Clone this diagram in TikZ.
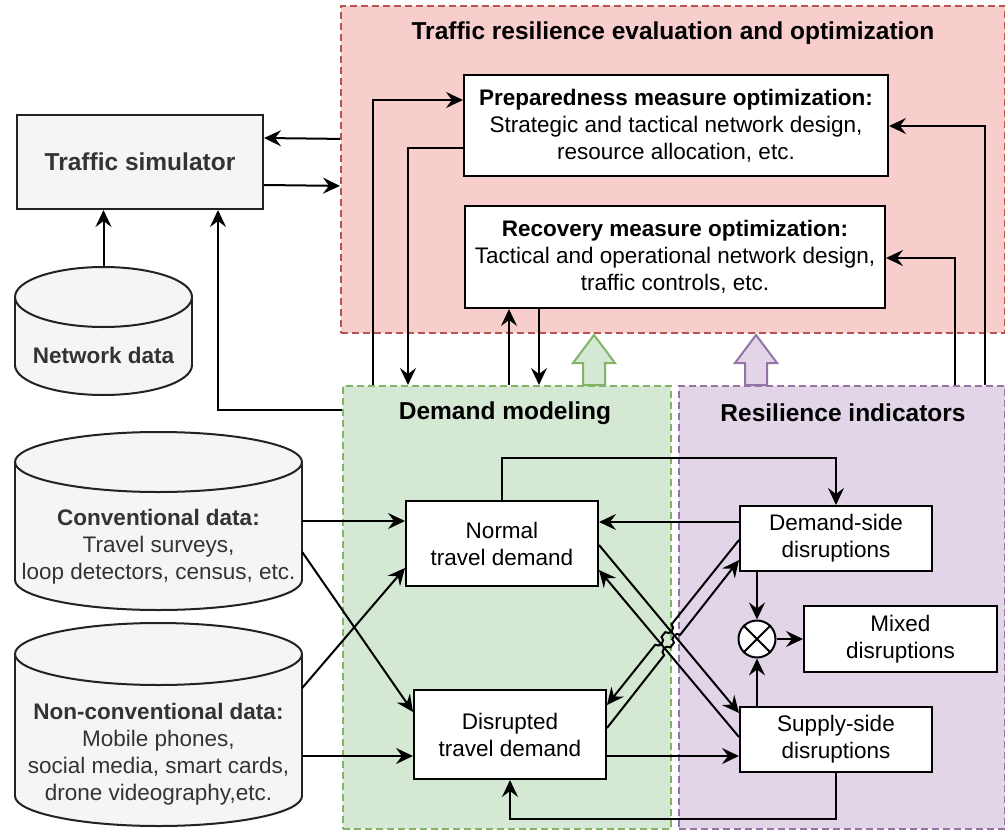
\documentclass[tikz,border=0pt]{standalone}
\usepackage{fontspec}
\setmainfont{Liberation Sans}
\usetikzlibrary{arrows.meta,calc,intersections}
\definecolor{redfill}{HTML}{F8CECC}
\definecolor{redline}{HTML}{B85450}
\definecolor{greenfill}{HTML}{D5E8D4}
\definecolor{greenline}{HTML}{82B366}
\definecolor{purplefill}{HTML}{E1D5E7}
\definecolor{purpleline}{HTML}{9673A6}
\definecolor{grayfill}{HTML}{F5F5F5}
\definecolor{grayline}{HTML}{222222}
\definecolor{graytext}{HTML}{333333}
\begin{document}
\begin{tikzpicture}[x=1pt,y=-1pt,
  bodyfont/.style={font=\fontsize{22.5}{27}\selectfont},
  titlefont/.style={font=\bfseries\fontsize{24.5}{29}\selectfont},
  container/.style={draw, line width=1.8pt, dash pattern=on 7pt off 4pt, inner sep=0pt, anchor=north west},
  whitebox/.style={draw, fill=white, line width=2pt, inner sep=0pt, align=center, bodyfont},
  cylline/.style={draw=grayline, line width=2pt},
  conn/.style={line width=2pt, -{Stealth[length=17pt,width=16pt,inset=6pt]}},
  hop/.style={bend left=90, looseness=1.5},
  blockarrow/.style={line width=2pt, line join=miter},
]
\useasboundingbox (0,0) rectangle (1005,830);

% containers
\node[container, draw=redline, fill=redfill, minimum width=664pt, minimum height=327pt] (red) at (340,5) {};
\node[container, draw=greenline, fill=greenfill, minimum width=328pt, minimum height=443pt] (green) at (342,385) {};
\node[container, draw=purpleline, fill=purplefill, minimum width=326pt, minimum height=443pt] (purple) at (678,385) {};

\node[titlefont] (redtitle) at (673,33) {Traffic resilience evaluation and optimization};
\node[titlefont] (greentitle) at (505,413) {Demand modeling};
\node[titlefont] (purpletitle) at (843,413) {Resilience indicators};

% block arrows
\draw[blockarrow, draw=greenline, fill=greenfill] (583,385) -- (583,363) -- (573,363) -- (594,335) -- (615,363) -- (605,363) -- (605,385) -- cycle;
\draw[blockarrow, draw=purpleline, fill=purplefill] (745,385) -- (745,363) -- (735,363) -- (756,335) -- (777,363) -- (767,363) -- (767,385) -- cycle;

% top boxes
\node[whitebox, minimum width=424pt, minimum height=101pt] (prep) at (676,125.5)
  {\textbf{Preparedness measure optimization:}\\Strategic and tactical network design,\\resource allocation, etc.};
\node[whitebox, minimum width=420pt, minimum height=102pt] (recov) at (675,257)
  {\textbf{Recovery measure optimization:}\\Tactical and operational network design,\\traffic controls, etc.};

% simulator
\node[draw=grayline, fill=grayfill, line width=2pt, minimum width=246pt, minimum height=94pt, inner sep=0pt, text=graytext, titlefont] (sim) at (140,162) {Traffic simulator};

% network data cylinder
\fill[grayfill] (15,297) rectangle (192,365);
\fill[grayfill] (103.5,365) ellipse [x radius=88.5pt, y radius=30pt];
\draw[cylline] (15,297) -- (15,365) (192,297) -- (192,365);
\begin{scope}
  \clip (0,365) rectangle (210,410);
  \draw[cylline] (103.5,365) ellipse [x radius=88.5pt, y radius=30pt];
\end{scope}
\draw[cylline, fill=grayfill] (103.5,297) ellipse [x radius=88.5pt, y radius=30pt];
\node[minimum width=177pt, minimum height=128pt, inner sep=0pt] (net) at (103.5,331) {};
\node[font=\bfseries\fontsize{22.5}{27}\selectfont, text=graytext] (nettext) at (103.5,355) {Network data};

% conventional data cylinder
\fill[grayfill] (15,462) rectangle (302,580);
\fill[grayfill] (158.5,580) ellipse [x radius=143.5pt, y radius=30pt];
\draw[cylline] (15,462) -- (15,580) (302,462) -- (302,580);
\begin{scope}
  \clip (0,580) rectangle (320,620);
  \draw[cylline] (158.5,580) ellipse [x radius=143.5pt, y radius=30pt];
\end{scope}
\draw[cylline, fill=grayfill] (158.5,462) ellipse [x radius=143.5pt, y radius=30pt];
\node[minimum width=287pt, minimum height=178pt, inner sep=0pt] (conv) at (158.5,521) {};
\node[bodyfont, text=graytext, align=center] (convtext) at (158.5,546.5)
  {\textbf{Conventional data:}\\Travel surveys,\\loop detectors, census, etc.};

% non-conventional data cylinder
\fill[grayfill] (15,654) rectangle (302,796);
\fill[grayfill] (158.5,796) ellipse [x radius=143.5pt, y radius=30pt];
\draw[cylline] (15,654) -- (15,796) (302,654) -- (302,796);
\begin{scope}
  \clip (0,796) rectangle (320,830);
  \draw[cylline] (158.5,796) ellipse [x radius=143.5pt, y radius=30pt];
\end{scope}
\draw[cylline, fill=grayfill] (158.5,654) ellipse [x radius=143.5pt, y radius=31pt];
\node[minimum width=287pt, minimum height=204pt, inner sep=0pt] (nonconv) at (158.5,725) {};
\node[bodyfont, text=graytext, align=center] (nonconvtext) at (158.5,754)
  {\textbf{Non-conventional data:}\\Mobile phones,\\social media, smart cards,\\drone videography,etc.};

% demand modeling boxes
\node[whitebox, minimum width=192pt, minimum height=85pt] (normal) at (502,543.5) {Normal\\travel demand};
\node[whitebox, minimum width=192pt, minimum height=89pt] (disr) at (510,734.5) {Disrupted\\travel demand};

% resilience indicator boxes
\node[whitebox, minimum width=192pt, minimum height=65pt] (demand) at (836,538.5) {Demand-side\\disruptions};
\node[whitebox, minimum width=192pt, minimum height=65pt] (supply) at (836,739.5) {Supply-side\\disruptions};
\node[whitebox, minimum width=193pt, minimum height=66pt] (mixed) at (900.5,639) {Mixed\\disruptions};
\node[circle, draw, fill=white, line width=2pt, minimum size=37pt, inner sep=0pt] (circ) at (757,639) {};
\draw[line width=2pt] (circ.north west) -- (circ.south east) (circ.north east) -- (circ.south west);

% connectors: left side
\draw[conn] (net.north) -- (net.north |- sim.south);
\draw[conn] ($(red.west)+(0,-30.5)$) -- ($(sim.east)+(0,-24)$);
\draw[conn] ($(sim.east)+(0,23)$) -- ($(red.west)+(0,16.5)$);
\draw[conn] ($(green.north west)+(0,25)$) -| ($(sim.south)+(78,0)$);

% connectors: top
\draw[conn] ($(green.north west)+(31,0)$) |- ($(prep.west)+(0,-25.5)$);
\draw[conn] ($(prep.west)+(0,22.5)$) -| ($(green.north west)+(66,0)$);
\draw[conn] ($(green.north west)+(167,0)$) -- ($(recov.south)+(-166,0)$);
\draw[conn] ($(recov.south)+(-136,0)$) -- ($(green.north west)+(197,0)$);
\draw[conn] ($(purple.north east)+(-21,0)$) |- ($(prep.east)+(0,0.5)$);
\draw[conn] ($(purple.north east)+(-51,0)$) |- ($(recov.east)+(0,1)$);

% connectors: data to demand
\draw[conn] (conv.east) -- (conv.east -| normal.west);
\draw[conn] ($(conv.east)+(0,31)$) -- ($(disr.west)+(0,-22.5)$);
\draw[conn] ($(nonconv.east)+(0,-37)$) -- ($(normal.west)+(0,24.5)$);
\draw[conn] ($(nonconv.east)+(0,31)$) -- ($(disr.west)+(0,21.5)$);

% connectors: demand <-> indicators
\draw[conn] (normal.north) -- ++(0,-42) -| (demand.north);
\draw[conn] ($(demand.west)+(0,-16.5)$) -- ($(normal.east)+(0,-21.5)$);
\draw[conn] ($(disr.east)+(0,21.5)$) -- ($(supply.west)+(0,16.5)$);
\draw[conn] (supply.south) -- ++(0,46) -| (disr.south);
\draw[conn] (circ.north |- demand.south) -- (circ.north);
\draw[conn] (circ.south |- supply.north) -- (circ.south);
\draw[conn] (circ.east) -- (circ.east -| mixed.west);

% diagonals
\coordinate (a1) at ($(normal.east)+(0,1.5)$);
\coordinate (b1) at ($(supply.west)+(0,-26.5)$);
\coordinate (a2) at ($(supply.west)+(0,-2.5)$);
\coordinate (b2) at ($(normal.east)+(0,26.5)$);
\coordinate (a3) at ($(demand.west)+(0,1.5)$);
\coordinate (b3) at ($(disr.east)+(0,-29.5)$);
\coordinate (a4) at ($(disr.east)+(0,-6.5)$);
\coordinate (b4) at ($(demand.west)+(0,21.5)$);
\draw[conn, name path=l1] (a1) -- (b1);
\draw[conn, name path=l2] (a2) -- (b2);
\path[name path=l3] (a3) -- (b3);
\path[name path=l4] (a4) -- (b4);
\path[name intersections={of=l3 and l1, by=x31}];
\path[name intersections={of=l3 and l2, by=x32}];
\path[name intersections={of=l4 and l1, by=x41}];
\path[name intersections={of=l4 and l2, by=x42}];
\draw[conn] (a3) -- ($(x31)!5pt!(a3)$) to[hop] ($(x31)!5pt!(b3)$)
  -- ($(x32)!5pt!(a3)$) to[hop] ($(x32)!5pt!(b3)$) -- (b3);
\draw[conn] (a4) -- ($(x42)!5pt!(a4)$) to[hop] ($(x42)!5pt!(b4)$)
  -- ($(x41)!5pt!(a4)$) to[hop] ($(x41)!5pt!(b4)$) -- (b4);
\end{tikzpicture}
\end{document}
